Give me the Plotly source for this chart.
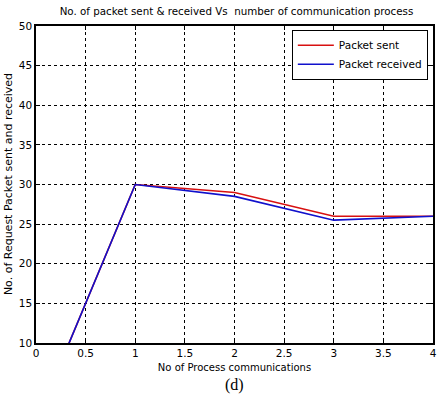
import plotly.graph_objects as go

x_vals = [0, 1, 2, 3, 4]
sent = [0, 30, 29, 26, 26]
received = [0, 30, 28.5, 25.5, 26]
x_ticks = [0, 0.5, 1, 1.5, 2, 2.5, 3, 3.5, 4]
x_tick_text = ["0", "0.5", "1", "1.5", "2", "2.5", "3", "3.5", "4"]
y_ticks = [10, 15, 20, 25, 30, 35, 40, 45, 50]

font = "DejaVu Sans"
fig = go.Figure()
fig.add_trace(go.Scatter(x=x_vals, y=sent, mode="lines", name="Packet sent",
                         line=dict(color="#d81010", width=1.6)))
fig.add_trace(go.Scatter(x=x_vals, y=received, mode="lines", name="Packet received",
                         line=dict(color="#1010cc", width=1.6)))

axis_common = dict(showline=True, linecolor="black", linewidth=1.5, mirror="ticks",
                   ticks="inside", ticklen=4, tickcolor="black",
                   showgrid=True, gridcolor="black", griddash="dot", gridwidth=1,
                   zeroline=False, tickfont=dict(family=font, size=10.5, color="black"))
fig.update_xaxes(range=[0, 4], tickvals=x_ticks, ticktext=x_tick_text,
                 title=dict(text="No of Process communications", font=dict(family=font, size=10, color="black"), standoff=6),
                 **axis_common)
fig.update_yaxes(range=[10, 50], tickvals=y_ticks, **axis_common)

fig.update_layout(
    width=442, height=396,
    margin=dict(l=36, r=5, t=26, b=53),
    paper_bgcolor="white", plot_bgcolor="white",
    title=dict(text="No. of packet sent & received Vs  number of communication process",
               x=0.535, xanchor="center", y=0.972, yanchor="middle",
               font=dict(family=font, size=10.3, color="black")),
    legend=dict(x=0.987, y=0.988, xanchor="right", yanchor="top",
                bgcolor="white", bordercolor="black", borderwidth=1,
                font=dict(family=font, size=10.5, color="black"),
                itemwidth=36, tracegroupgap=0),
    showlegend=True,
)
fig.add_annotation(text="No. of Request Packet sent and received", textangle=-90,
                   xref="paper", yref="paper", x=-0.069, y=0.5,
                   xanchor="center", yanchor="middle", showarrow=False, borderpad=0,
                   font=dict(family=font, size=11, color="black"))
fig.add_annotation(text="(d)", xref="paper", yref="paper", x=0.5, y=-0.166,
                   xanchor="center", yanchor="bottom", showarrow=False,
                   font=dict(family="Liberation Serif", size=16, color="black"))
fig.write_html("out.html")
